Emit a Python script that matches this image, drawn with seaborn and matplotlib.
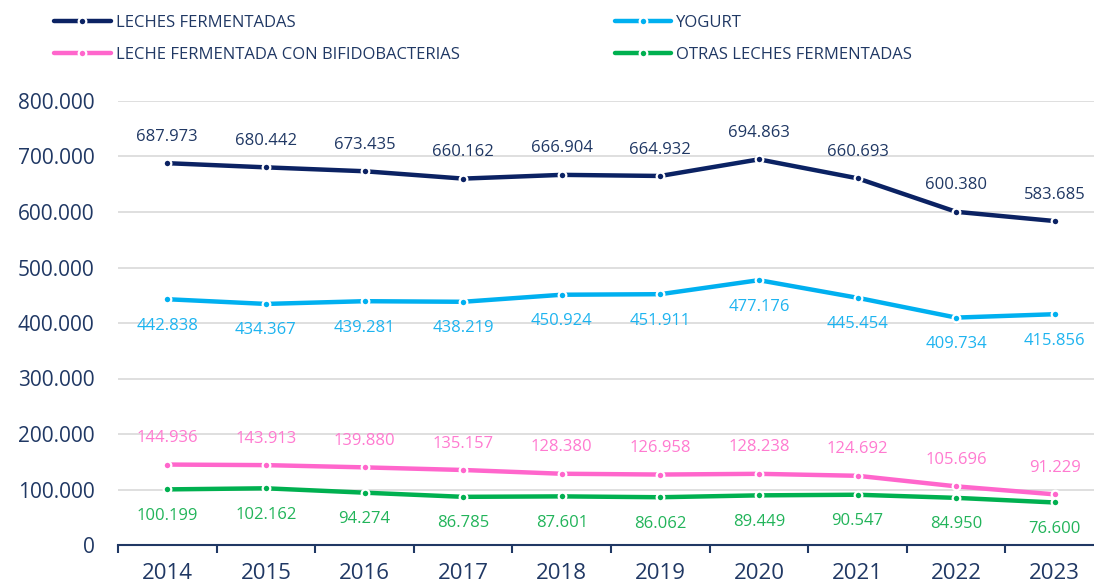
import matplotlib.pyplot as plt
import seaborn as sns
import pandas as pd

years = ["2014", "2015", "2016", "2017", "2018", "2019", "2020", "2021", "2022", "2023"]
leches_fermentadas = [687973, 680442, 673435, 660162, 666904, 664932, 694863, 660693, 600380, 583685]
yogurt = [442838, 434367, 439281, 438219, 450924, 451911, 477176, 445454, 409734, 415856]
bifido = [144936, 143913, 139880, 135157, 128380, 126958, 128238, 124692, 105696, 91229]
otras = [100199, 102162, 94274, 86785, 87601, 86062, 89449, 90547, 84950, 76600]

series_names = ["LECHES FERMENTADAS", "YOGURT",
                "LECHE FERMENTADA CON BIFIDOBACTERIAS", "OTRAS LECHES FERMENTADAS"]
series_vals = [leches_fermentadas, yogurt, bifido, otras]
line_colors = ["#0B2263", "#00B0F0", "#FF66CC", "#00B050"]
label_colors = ["#203864", "#1EB4F0", "#FF7AD0", "#22B45A"]
label_side = [1, -1, 1, -1]  # above / below the point

navy = "#203864"

sns.set_theme(style="white")
plt.rcParams["font.family"] = ["Open Sans", "DejaVu Sans"]

fig = plt.figure(figsize=(10.94, 5.83), dpi=100)
ax = fig.add_axes([118 / 1094, 38 / 583, (1104 - 118) / 1094, (545 - 101) / 583])

pos = list(range(len(years)))
for name, vals, lc, tc, side in zip(series_names, series_vals, line_colors, label_colors, label_side):
    df = pd.DataFrame({"x": pos, "y": vals})
    sns.lineplot(data=df, x="x", y="y", ax=ax, color=lc, linewidth=3.2,
                 marker="o", markersize=5.5, markeredgecolor="white",
                 markeredgewidth=1.6, label=name, zorder=3, legend=False)
    for x, v in zip(pos, vals):
        ax.annotate(f"{v:,}".replace(",", "."), (x, v), xytext=(0, 19 * side),
                    textcoords="offset points", ha="center", va="center",
                    fontsize=12, color=tc)

ax.set_xlim(-0.5, len(years) - 0.5)
ax.set_ylim(0, 800000)
ax.set_yticks(range(0, 800001, 100000))
ax.set_yticklabels([f"{t:,}".replace(",", ".") for t in range(0, 800001, 100000)])
ax.yaxis.grid(True, color="#D9D9D9", linewidth=1.2)
ax.set_axisbelow(True)

ax.set_xticks([p - 0.5 for p in pos] + [len(years) - 0.5])
ax.set_xticklabels([])
ax.set_xticks(pos, minor=True)
ax.set_xticklabels(years, minor=True)
ax.tick_params(axis="x", which="major", direction="out", length=6, width=1.5,
               color=navy, bottom=True)
ax.tick_params(axis="x", which="minor", length=0, pad=13, labelsize=16, labelcolor=navy)
ax.tick_params(axis="y", length=0, pad=17, labelsize=15, labelcolor=navy)

ax.set_xlabel("")
ax.set_ylabel("")
for s in ["top", "right", "left"]:
    ax.spines[s].set_visible(False)
ax.spines["bottom"].set_color(navy)
ax.spines["bottom"].set_linewidth(1.5)

# legend filled row by row: reorder for matplotlib's column-wise fill
lines = ax.get_lines()
order = [0, 2, 1, 3]
fig.legend([lines[i] for i in order], [series_names[i] for i in order],
           loc="upper left", bbox_to_anchor=(54 / 1094, 1 - 15 / 583), ncol=2,
           frameon=False, fontsize=12, labelcolor=navy, numpoints=1,
           handlelength=3.4, handletextpad=0.3, columnspacing=9.3,
           labelspacing=0.95, borderpad=0, borderaxespad=0)

fig.savefig("out.png", dpi=100)
